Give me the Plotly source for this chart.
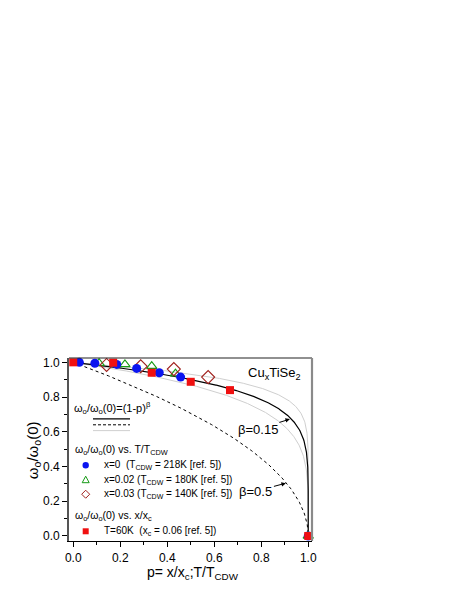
import numpy as np
import plotly.graph_objects as go

# ---------------- data ----------------
# x = 0 (T_CDW = 218K): omega_o/omega_o(0) vs T/T_CDW
p_x0 = [0.026, 0.092, 0.185, 0.27, 0.366, 0.457, 1.0]
w_x0 = [1.0, 0.995, 0.988, 0.965, 0.94, 0.915, 0.0]
# x = 0.02 (T_CDW = 180K)
p_x002 = [0.11, 0.22, 0.334, 0.435, 1.0]
w_x002 = [0.995, 0.988, 0.978, 0.935, 0.0]
# x = 0.03 (T_CDW = 140K)
p_x003 = [0.142, 0.287, 0.428, 0.574]
w_x003 = [0.985, 0.977, 0.961, 0.915]
# T = 60K: omega_o/omega_o(0) vs x/x_c
p_t60 = [0.0, 0.17, 0.334, 0.5, 0.667, 1.0]
w_t60 = [1.0, 0.998, 0.94, 0.888, 0.84, 0.0]

# model exponents for (1-p)^beta
beta_main = 0.15
beta_dash = 0.5
beta_gray = [0.1, 0.2]

x_ticks = [0.0, 0.2, 0.4, 0.6, 0.8, 1.0]
y_ticks = [0.0, 0.2, 0.4, 0.6, 0.8, 1.0]
x_ticklabels = ["0.0", "0.2", "0.4", "0.6", "0.8", "1.0"]
y_ticklabels = ["0.0", "0.2", "0.4", "0.6", "0.8", "1.0"]

# ---------------- figure ----------------
FONT = "Liberation Sans, Arial, sans-serif"
p_grid = np.concatenate([np.linspace(0, 0.99, 500), 1 - np.logspace(-2, -12, 300), [1.0]])


def model(beta):
    return np.power(1 - p_grid, beta)


fig = go.Figure()
for b in beta_gray:
    fig.add_trace(go.Scatter(x=p_grid, y=model(b), mode="lines",
                             line=dict(color="#cfcfcf", width=1), hoverinfo="skip"))
fig.add_trace(go.Scatter(x=p_grid, y=model(beta_dash), mode="lines",
                         line=dict(color="black", width=1, dash="3px,3px"), hoverinfo="skip"))
fig.add_trace(go.Scatter(x=p_grid, y=model(beta_main), mode="lines",
                         line=dict(color="black", width=1.2), hoverinfo="skip"))

fig.add_trace(go.Scatter(x=p_x002, y=w_x002, mode="markers", cliponaxis=False,
                         marker=dict(symbol="triangle-up-open", size=9, color="#159a15",
                                     line=dict(width=1.1))))
fig.add_trace(go.Scatter(x=p_x003, y=w_x003, mode="markers", cliponaxis=False,
                         marker=dict(symbol="diamond-open", size=10, color="#a0201c",
                                     line=dict(width=1.1))))
fig.add_trace(go.Scatter(x=p_x0, y=w_x0, mode="markers", cliponaxis=False,
                         marker=dict(symbol="circle", size=9, color="#0a14f0")))
fig.add_trace(go.Scatter(x=p_t60, y=w_t60, mode="markers", cliponaxis=False,
                         marker=dict(symbol="square", size=8, color="#f01010")))

# plot area pixel geometry (page pixels); page body has an 8px margin
OFF = 8
L, R, T, B = 69, 312, 358, 540.7
W, H = R - L, B - T
FIG_W, FIG_H = 463 - OFF, 599 - OFF


def px(x):
    return (x - L) / W


def py(y):
    return (B - y) / H


ann = []
shapes = []
tf = dict(family=FONT, size=10, color="black")
hf = dict(family=FONT, size=10.5, color="black")

# legend block
ann.append(dict(x=px(71.5), y=py(408), xref="paper", yref="paper", xanchor="left", yanchor="middle",
                text="ω<sub>o</sub>/ω<sub>o</sub>(0)=(1-p)<sup>β</sup>", showarrow=False,
                font=dict(family=FONT, size=11, color="black")))
shapes.append(dict(type="line", xref="paper", yref="paper", x0=px(93), x1=px(130), y0=py(418.7), y1=py(418.7),
                   line=dict(color="black", width=1.2)))
shapes.append(dict(type="line", xref="paper", yref="paper", x0=px(93), x1=px(130), y0=py(424.7), y1=py(424.7),
                   line=dict(color="black", width=1, dash="3px,2px")))
shapes.append(dict(type="line", xref="paper", yref="paper", x0=px(93), x1=px(130), y0=py(430.5), y1=py(430.5),
                   line=dict(color="#cfcfcf", width=1)))
ann.append(dict(x=px(72.5), y=py(449.5), xref="paper", yref="paper", xanchor="left", yanchor="middle",
                text="ω<sub>o</sub>/ω<sub>o</sub>(0) vs. T/T<sub>CDW</sub>", showarrow=False, font=hf))

rows = [
    (465, "x=0  (T<sub>CDW</sub> = 218K [ref. 5])"),
    (479.5, "x=0.02 (T<sub>CDW</sub> = 180K [ref. 5])"),
    (494, "x=0.03 (T<sub>CDW</sub> = 140K [ref. 5])"),
]
for yy, t in rows:
    ann.append(dict(x=px(101.5), y=py(yy), xref="paper", yref="paper", xanchor="left", yanchor="middle",
                    text=t, showarrow=False, font=tf))
mx = px(85.7)
shapes.append(dict(type="circle", xref="paper", yref="paper", xsizemode="pixel", ysizemode="pixel",
                   xanchor=mx, yanchor=py(465), x0=-3.2, x1=3.2, y0=-3.2, y1=3.2,
                   fillcolor="#0a14f0", line=dict(width=0)))
shapes.append(dict(type="path", xref="paper", yref="paper", xsizemode="pixel", ysizemode="pixel",
                   xanchor=mx, yanchor=py(479.5), path="M -3.5,-3 L 3.5,-3 L 0,3.5 Z",
                   line=dict(color="#159a15", width=1)))
shapes.append(dict(type="path", xref="paper", yref="paper", xsizemode="pixel", ysizemode="pixel",
                   xanchor=mx, yanchor=py(494), path="M 0,-4 L 4,0 L 0,4 L -4,0 Z",
                   line=dict(color="#a0201c", width=1)))
ann.append(dict(x=px(73), y=py(516), xref="paper", yref="paper", xanchor="left", yanchor="middle",
                text="ω<sub>o</sub>/ω<sub>o</sub>(0) vs. x/x<sub>c</sub>", showarrow=False, font=hf))
shapes.append(dict(type="rect", xref="paper", yref="paper", xsizemode="pixel", ysizemode="pixel",
                   xanchor=mx, yanchor=py(531), x0=-3, x1=3, y0=-3, y1=3,
                   fillcolor="#f01010", line=dict(width=0)))
ann.append(dict(x=px(101.5), y=py(531), xref="paper", yref="paper", xanchor="left", yanchor="middle",
                text="T=60K  (x<sub>c</sub> = 0.06 [ref. 5])", showarrow=False, font=tf))

# compound label
ann.append(dict(x=px(302), y=py(373), xref="paper", yref="paper", xanchor="right", yanchor="middle",
                text="Cu<sub>x</sub>TiSe<sub>2</sub>", showarrow=False,
                font=dict(family=FONT, size=13, color="black")))

# beta labels with arrows
ann.append(dict(x=0.922, y=0.673, xref="x", yref="y", text="β=0.15", showarrow=True,
                ax=-32, ay=10, arrowhead=2, arrowsize=0.9, arrowwidth=1, arrowcolor="black",
                font=dict(family=FONT, size=13, color="black")))
ann.append(dict(x=0.905, y=0.304, xref="x", yref="y", text="β=0.5", showarrow=True,
                ax=-30, ay=8, arrowhead=2, arrowsize=0.9, arrowwidth=1, arrowcolor="black",
                font=dict(family=FONT, size=13, color="black")))

# axis titles
ann.append(dict(x=px(193), y=py(573), xref="paper", yref="paper", xanchor="center", yanchor="middle",
                text="p= x/x<sub>c</sub>;T/T<sub>CDW</sub>", showarrow=False,
                font=dict(family=FONT, size=14, color="black")))
ann.append(dict(x=px(33), y=py(450), xref="paper", yref="paper", xanchor="center", yanchor="middle",
                text="ω<sub>o</sub>/ω<sub>o</sub>(0)", showarrow=False, textangle=-90,
                font=dict(family=FONT, size=15, color="black")))

# frame: top dark, right gray
shapes.append(dict(type="line", xref="paper", yref="paper", x0=0, x1=1, y0=1, y1=1,
                   line=dict(color="#222222", width=1.2)))
shapes.append(dict(type="line", xref="paper", yref="paper", x0=1, x1=1, y0=0, y1=1,
                   line=dict(color="#8a8a8a", width=2.2)))

axis_common = dict(showgrid=False, zeroline=False, showline=True, ticks="outside",
                   ticklen=5, tickwidth=1, tickcolor="black",
                   tickfont=dict(family=FONT, size=12, color="black"),
                   minor=dict(ticks="outside", ticklen=3, tickcolor="black", dtick=0.1, showgrid=False))

fig.update_layout(
    width=FIG_W, height=FIG_H,
    margin=dict(l=L - OFF, r=FIG_W - (R - OFF), t=T - OFF, b=FIG_H - (B - OFF)),
    paper_bgcolor="white", plot_bgcolor="white",
    showlegend=False,
    xaxis=dict(range=[-0.018, 1.016], tickvals=x_ticks, ticktext=x_ticklabels,
               linecolor="black", linewidth=1.2, **axis_common),
    yaxis=dict(range=[-0.029, 1.025], tickvals=y_ticks, ticktext=y_ticklabels,
               linecolor="#555555", linewidth=1.6, **axis_common),
    annotations=ann, shapes=shapes,
)

fig.write_html("out.html")
